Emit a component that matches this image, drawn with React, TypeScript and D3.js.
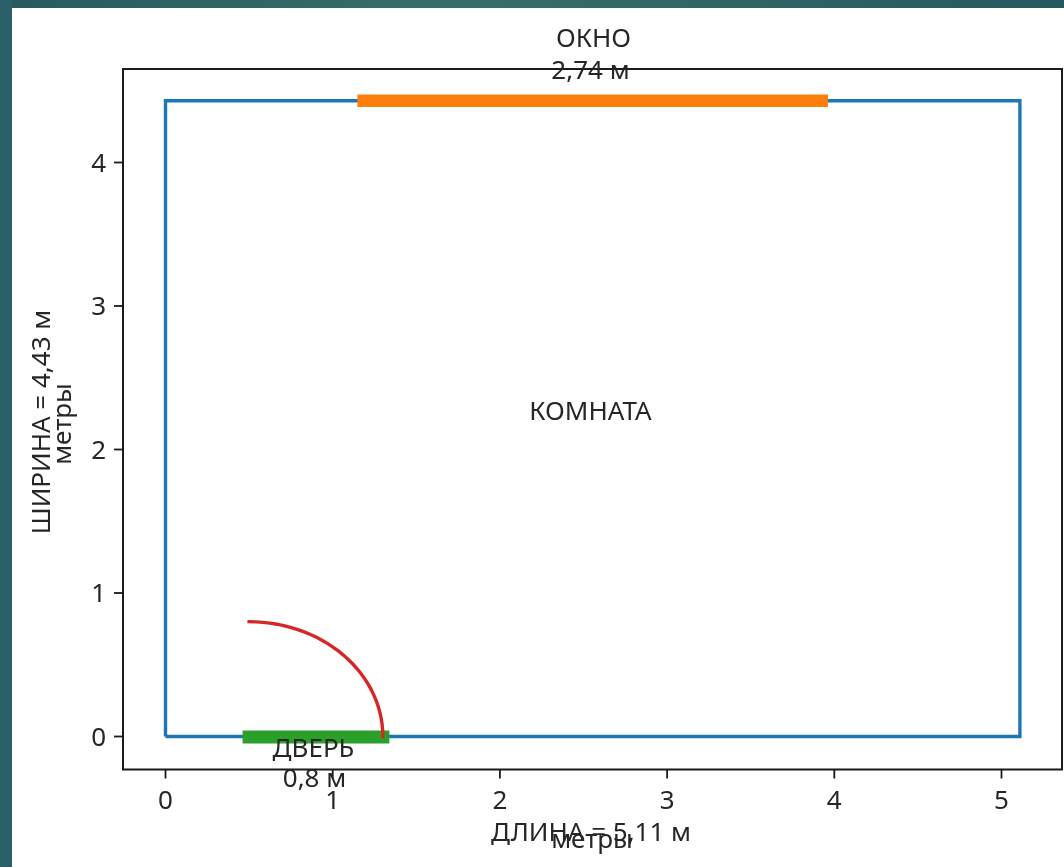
import React from "react";
import * as d3 from "d3";

const roomLength = 5.11;
const roomWidth = 4.43;
const windowStart = 1.185;
const windowEnd = 3.925;
const doorStart = 0.5;
const doorEnd = 1.3;
const xTicks = [0, 1, 2, 3, 4, 5];
const yTicks = [0, 1, 2, 3, 4];
const swingAngles = d3.range(0, 90.5, 3);

const FONT = "'Noto Sans', sans-serif";
const INK = "#262626";
const FS = 26;

const left = 123, right = 1062, top = 69, bottom = 769.5;
const x = d3.scaleLinear().domain([0, 5]).range([165.5, 1001.5]);
const y = d3.scaleLinear().domain([0, 4]).range([736.5, 162.5]);
const line = d3.line<[number, number]>().x(d => x(d[0])).y(d => y(d[1]));

const roomPts: [number, number][] = [[0, 0], [0, roomWidth], [roomLength, roomWidth], [roomLength, 0], [0, 0]];
const r = doorEnd - doorStart;
const swingPts: [number, number][] = swingAngles.map(a => [doorStart + r * Math.cos(a * Math.PI / 180), r * Math.sin(a * Math.PI / 180)]);

const Label = ({ px, py, children, rotate }: any) => (
  <text x={px} y={py} textAnchor="middle" fontFamily={FONT} fontSize={FS} fill={INK}
    transform={rotate ? `rotate(-90 ${px} ${py})` : undefined}>{children}</text>
);

export default function App() {
  return (
    <svg width={1064} height={867} style={{ position: "absolute", left: 0, top: 0 }}>
      <defs>
        <linearGradient id="bg" x1="0" y1="0" x2="1" y2="0">
          <stop offset="0" stopColor="#28595f" />
          <stop offset="0.42" stopColor="#366f69" />
          <stop offset="1" stopColor="#275860" />
        </linearGradient>
        <filter id="soft" x="-2%" y="-2%" width="104%" height="104%">
          <feGaussianBlur stdDeviation="0.6" />
        </filter>
      </defs>
      <rect x={0} y={0} width={1064} height={867} fill="url(#bg)" />
      <rect x={0} y={0} width={12} height={867} fill="#2b6068" />
      <rect x={12} y={8} width={1052} height={859} fill="#ffffff" />
      <g filter="url(#soft)">
        <rect x={left} y={top} width={right - left} height={bottom - top} fill="none" stroke="#1a1a1a" strokeWidth={2} />
        {xTicks.map(t => (
          <g key={t}>
            <line x1={x(t)} x2={x(t)} y1={bottom} y2={bottom + 9} stroke="#1a1a1a" strokeWidth={1.8} />
            <Label px={x(t)} py={bottom + 39}>{t}</Label>
          </g>
        ))}
        {yTicks.map(t => (
          <g key={t}>
            <line x1={left - 9} x2={left} y1={y(t)} y2={y(t)} stroke="#1a1a1a" strokeWidth={1.8} />
            <text x={left - 17} y={y(t) + 9} textAnchor="end" fontFamily={FONT} fontSize={FS} fill={INK}>{t}</text>
          </g>
        ))}
        <path d={line(roomPts)!} fill="none" stroke="#1f77b4" strokeWidth={3.4} strokeLinejoin="miter" />
        <line x1={x(windowStart)} x2={x(windowEnd)} y1={y(roomWidth)} y2={y(roomWidth)} stroke="#ff7f0e" strokeWidth={12.5} strokeLinecap="square" />
        <line x1={x(doorStart)} x2={x(doorEnd)} y1={y(0) + 0.5} y2={y(0) + 0.5} stroke="#2ca02c" strokeWidth={13} strokeLinecap="square" />
        <path d={line(swingPts)!} fill="none" stroke="#d62728" strokeWidth={3.4} strokeLinecap="square" />
        <Label px={593.5} py={47}>ОКНО</Label>
        <Label px={590.5} py={79}>2,74 м</Label>
        <Label px={590.5} py={420}>КОМНАТА</Label>
        <Label px={313.5} py={757}>ДВЕРЬ</Label>
        <Label px={314.5} py={787}>0,8 м</Label>
        <Label px={591} py={841}>ДЛИНА = 5,11 м</Label>
        <Label px={592} py={848}>метры</Label>
        <Label px={50} py={422} rotate>ШИРИНА = 4,43 м</Label>
        <Label px={71} py={424} rotate>метры</Label>
      </g>
    </svg>
  );
}
